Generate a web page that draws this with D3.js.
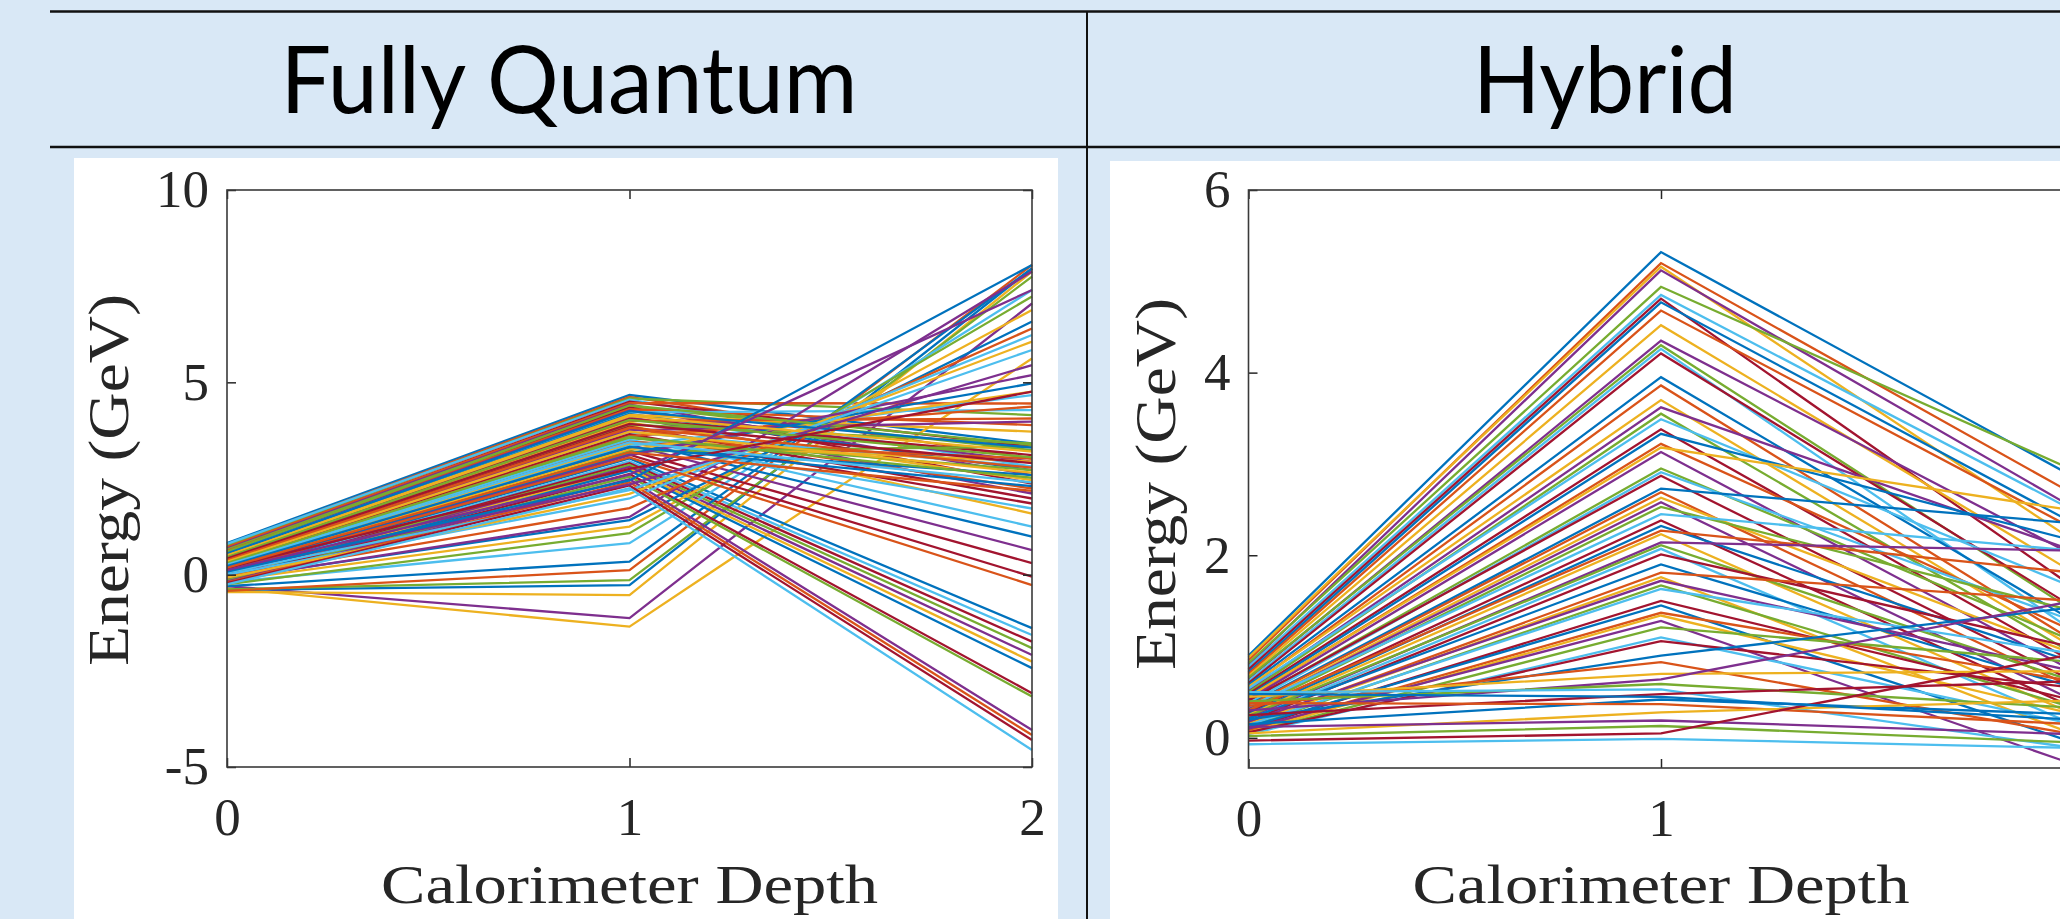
<!DOCTYPE html>
<html>
<head>
<meta charset="utf-8">
<script src="https://cdn.jsdelivr.net/npm/d3@7"></script>
<style>
  body { margin: 0; background: #d9e8f6; }
  svg { display: block; }
</style>
</head>
<body>
<div id="myDiv"><svg width="2060" height="919"></svg></div>
<script>
const depths = [0, 1, 2];
const quantumTicks = [-5, 0, 5, 10];
const hybridTicks = [0, 2, 4, 6];
const panelTitles = ["Fully Quantum", "Hybrid"];
const axisTitleX = "Calorimeter Depth";
const axisTitleY = "Energy (GeV)";
const lineColors = ["#0072BD", "#D95319", "#EDB120", "#7E2F8E", "#77AC30", "#4DBEEE", "#A2142F"];

// energy of each generated shower at depth 0, 1, 2
const fullyQuantum = [
    [0.82, 4.67, 3.41], [0.78, 4.62, 3.02], [-0.35, -1.35, 5.62], [-0.30, -1.13, 7.05],
    [0.75, 4.58, 4.15], [0.80, 4.55, 2.81], [0.70, 4.50, 3.33], [0.05, 3.02, -1.39],
    [0.72, 4.46, 4.45], [-0.45, -0.53, 7.88], [0.68, 4.42, 2.59], [0.65, 4.38, 3.24],
    [0.02, 2.95, -1.57], [0.60, 4.35, 2.37], [-0.40, -0.27, 7.96], [0.62, 4.30, 3.89],
    [0.36, 3.88, 1.59], [0.58, 4.26, 2.94], [-0.38, -0.14, 7.75], [0.55, 4.22, 4.28],
    [0.00, 2.90, -1.74], [0.50, 4.18, 2.72], [-0.42, 0.12, 8.05], [0.52, 4.15, 3.72],
    [0.48, 4.10, 2.11], [-0.02, 2.85, -1.91], [0.32, 3.62, 1.25], [0.45, 4.05, 3.11],
    [-0.30, 0.34, 7.96], [0.42, 4.00, 4.06], [0.40, 3.95, 2.46], [-0.05, 2.80, -2.09],
    [0.44, 3.90, 3.41], [-0.20, 0.82, 7.40], [0.38, 3.85, 1.98], [0.26, 3.48, 0.99],
    [0.35, 3.80, 2.24], [-0.08, 2.75, -2.26], [0.40, 3.75, 3.98], [-0.25, 1.08, 7.23],
    [0.30, 3.70, 2.81], [0.33, 3.65, 1.85], [-0.10, 2.70, -2.43], [0.28, 3.60, 4.37],
    [-0.15, 1.25, 6.88], [0.24, 3.38, 0.64], [0.25, 3.55, 2.72], [0.30, 3.50, 1.72],
    [-0.12, 2.62, -3.08], [-0.10, 1.42, 6.58], [0.22, 3.45, 3.02], [0.20, 3.40, 2.94],
    [-0.12, 1.50, 7.88], [-0.15, 2.55, -3.17], [0.18, 3.35, 4.67], [0.16, 3.22, 0.30],
    [0.15, 3.30, 2.59], [-0.05, 1.73, 6.40], [0.20, 3.25, 4.76], [-0.18, 2.48, -4.04],
    [0.12, 3.20, 3.33], [0.00, 1.98, 6.23], [0.14, 3.12, -0.05], [0.10, 3.15, 4.97],
    [-0.20, 2.40, -4.17], [-0.08, 2.10, 6.06], [0.08, 3.10, 5.19], [0.60, 4.40, 3.38],
    [0.05, 2.20, 5.84], [-0.22, 2.32, -4.30], [0.55, 4.25, 3.30], [0.10, 3.05, -0.27],
    [0.50, 4.12, 3.20], [0.10, 2.35, 5.45], [0.46, 4.02, 3.05], [-0.25, 2.25, -4.56],
    [0.42, 3.92, 2.90], [0.08, 2.45, 8.05], [0.38, 3.82, 2.78], [0.34, 3.72, 2.65],
    [0.12, 2.60, 7.40], [0.30, 3.58, 2.52], [0.26, 3.44, 2.40], [0.18, 2.75, 4.76],
    [0.22, 3.32, 2.30], [0.18, 3.18, 2.18]
];

const hybrid = [
    [0.90, 5.32, 2.86], [0.85, 5.20, 2.67], [0.88, 5.16, 2.16], [0.80, 5.12, 2.52],
    [0.82, 4.94, 2.93], [0.78, 4.85, 2.49], [0.75, 4.81, 1.65], [0.72, 4.77, 2.35],
    [0.70, 4.68, 2.29], [0.68, 4.52, 1.81], [0.65, 4.35, 2.00], [0.66, 4.30, 1.39],
    [0.62, 4.26, 1.17], [0.60, 4.21, 1.43], [0.58, 3.95, 1.28], [0.55, 3.86, 1.06],
    [0.56, 3.70, 0.99], [0.52, 3.62, 2.05], [0.50, 3.55, 0.92], [0.54, 3.49, 1.65],
    [0.48, 3.38, 0.83], [0.46, 3.33, 2.16], [0.44, 3.22, 1.17], [0.45, 3.18, 2.49],
    [0.42, 3.13, 0.73], [0.40, 2.95, 1.06], [0.38, 2.91, 1.28], [0.41, 2.87, 0.62],
    [0.36, 2.73, 2.35], [0.35, 2.69, 0.55], [0.33, 2.63, 0.92], [0.32, 2.58, 0.41],
    [0.30, 2.53, 1.39], [0.34, 2.45, 2.05], [0.28, 2.38, 0.33], [0.26, 2.32, 0.83],
    [0.30, 2.27, 1.81], [0.25, 2.23, 0.26], [0.22, 2.14, 2.05], [0.24, 2.11, 0.62],
    [0.20, 2.07, 0.15], [0.18, 2.01, 0.99], [0.21, 1.90, 0.55], [0.16, 1.81, 1.50],
    [0.15, 1.76, 0.04], [0.18, 1.72, 0.73], [0.12, 1.67, 0.33], [0.14, 1.63, 0.92],
    [0.10, 1.50, 0.41], [0.12, 1.45, -0.05], [0.08, 1.37, 0.62], [0.06, 1.34, 0.26],
    [0.10, 1.28, -0.29], [0.05, 1.21, 0.83], [0.04, 1.10, 0.15], [0.06, 1.06, 0.55],
    [0.20, 0.90, 1.43], [0.35, 0.83, 0.04], [0.45, 0.70, 0.73], [0.30, 0.64, 1.50],
    [0.40, 0.59, 0.33], [0.50, 0.53, -0.11], [0.25, 0.48, 0.62], [0.15, 0.42, 0.26],
    [0.38, 0.37, 0.15], [0.05, 0.28, 0.41], [0.12, 0.19, 0.04], [0.02, 0.13, -0.05],
    [-0.07, -0.01, -0.11], [-0.03, 0.05, 0.92], [0.48, 0.45, 0.20]
];

const svg = d3.select("#myDiv").select("svg");
const pageWidth = 2060;

// header band
svg.append("line").attr("x1", 50).attr("x2", pageWidth).attr("y1", 11.5).attr("y2", 11.5)
    .attr("stroke", "#111").attr("stroke-width", 2.5);
svg.append("line").attr("x1", 50).attr("x2", pageWidth).attr("y1", 147).attr("y2", 147)
    .attr("stroke", "#111").attr("stroke-width", 2.5);
svg.append("line").attr("x1", 1087).attr("x2", 1087).attr("y1", 11).attr("y2", 919)
    .attr("stroke", "#111").attr("stroke-width", 2);

function drawPanel(data, ticks, yDomain, box) {
    // white card behind the plot
    svg.append("rect")
        .attr("x", box.cardX).attr("y", box.cardY)
        .attr("width", box.cardW).attr("height", 919 - box.cardY)
        .attr("fill", "white");

    svg.append("text")
        .attr("x", box.titleX).attr("y", 113)
        .attr("text-anchor", "middle")
        .attr("textLength", box.titleW)
        .attr("lengthAdjust", "spacingAndGlyphs")
        .style("font-family", "Lato, 'Open Sans', sans-serif")
        .style("font-size", "94px")
        .text(box.title);

    let x = d3.scaleLinear().domain([0, 2]).range([box.left, box.left + 2 * box.unit]);
    let y = d3.scaleLinear().domain(yDomain).range([box.bottom, box.top]);

    // only label the depths that fall inside the page
    let shownDepths = depths.filter(function(d) { return x(d) < pageWidth - 10; });

    let g = svg.append("g");

    let line = d3.line()
        .x(function(d, i) { return x(depths[i]); })
        .y(function(d) { return y(d); });

    g.selectAll("path.shower")
        .data(data)
        .enter()
        .append("path")
        .attr("class", "shower")
        .attr("d", line)
        .attr("fill", "none")
        .attr("stroke", function(d, i) { return lineColors[i % lineColors.length]; })
        .attr("stroke-width", 2.3);

    let fontStyle = function(sel) {
        sel.selectAll("text")
            .style("font-family", "'Liberation Serif', 'DejaVu Serif', serif")
            .style("font-size", "53px")
            .attr("fill", "#262626");
        sel.selectAll("line").attr("stroke", "#262626").attr("stroke-width", 1.5);
        sel.select(".domain").remove();
    };
    let plain = function(d) { return String(d); };

    g.append("g")
        .attr("transform", "translate(" + box.left + ",0)")
        .call(d3.axisLeft(y).tickValues(ticks).tickSizeInner(-9).tickSizeOuter(0).tickPadding(18)
            .tickFormat(plain))
        .call(fontStyle);

    g.append("g")
        .attr("transform", "translate(" + (box.left + 2 * box.unit) + ",0)")
        .call(d3.axisRight(y).tickValues(ticks).tickSizeInner(-9).tickSizeOuter(0).tickFormat(""))
        .call(fontStyle);

    g.append("g")
        .attr("transform", "translate(0," + box.bottom + ")")
        .call(d3.axisBottom(x).tickValues(shownDepths).tickSizeInner(-9).tickSizeOuter(0).tickPadding(30)
            .tickFormat(plain))
        .call(fontStyle);

    g.append("g")
        .attr("transform", "translate(0," + box.top + ")")
        .call(d3.axisTop(x).tickValues(shownDepths).tickSizeInner(-9).tickSizeOuter(0).tickFormat(""))
        .call(fontStyle);

    // axes box
    g.append("rect")
        .attr("x", box.left).attr("y", box.top)
        .attr("width", 2 * box.unit).attr("height", box.bottom - box.top)
        .attr("fill", "none")
        .attr("stroke", "#3a3a3a")
        .attr("stroke-width", 1.6);

    g.append("text")
        .attr("x", x(1)).attr("y", 903)
        .attr("text-anchor", "middle")
        .attr("textLength", 497)
        .attr("lengthAdjust", "spacingAndGlyphs")
        .style("font-family", "'Liberation Serif', serif")
        .style("font-size", "55px")
        .attr("fill", "#262626")
        .text(axisTitleX);

    g.append("text")
        .attr("transform", "translate(" + box.labelX + "," + box.labelY + ") rotate(-90)")
        .attr("text-anchor", "middle")
        .attr("textLength", 372)
        .attr("lengthAdjust", "spacingAndGlyphs")
        .style("font-family", "'Liberation Serif', serif")
        .style("font-size", "56px")
        .attr("fill", "#262626")
        .text(axisTitleY);
}

drawPanel(fullyQuantum, quantumTicks, [-5, 10], {
    title: panelTitles[0], titleX: 569, titleW: 577,
    cardX: 74, cardY: 158, cardW: 984,
    left: 227, unit: 402.5, top: 190, bottom: 767,
    labelX: 128, labelY: 480
});

drawPanel(hybrid, hybridTicks, [-0.33, 6], {
    title: panelTitles[1], titleX: 1605, titleW: 264,
    cardX: 1110, cardY: 161, cardW: 950,
    left: 1248.5, unit: 412.5, top: 190, bottom: 768,
    labelX: 1175, labelY: 484
});
</script>
</body>
</html>
